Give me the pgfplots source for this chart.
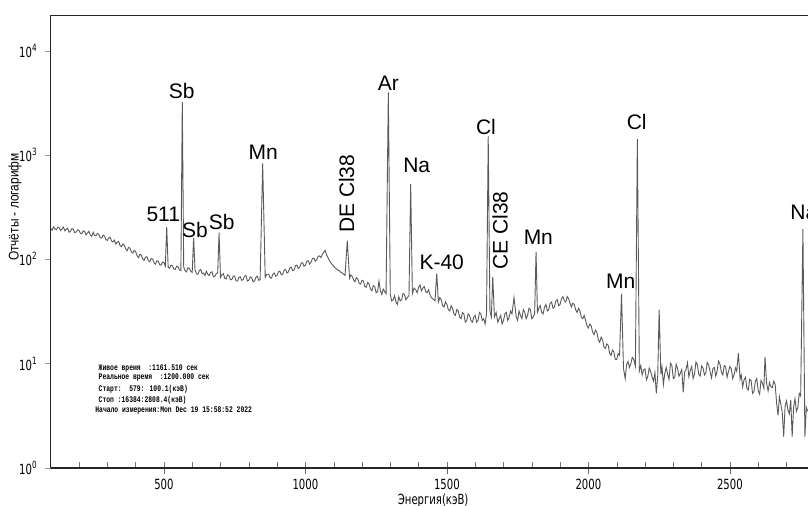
\documentclass[border=0pt]{standalone}
\usepackage{fontspec}
\setmainfont{Liberation Sans}
\newfontfamily\condfont[FakeStretch=0.72]{DejaVu Sans}
\newfontfamily\ylabfont[FakeStretch=0.85]{Liberation Sans}
\newfontfamily\infofont[FakeStretch=0.74]{Liberation Mono}
\usepackage{pgfplots}
\pgfplotsset{compat=1.18}
\usetikzlibrary{calc}

\newcommand{\peak}[1]{\fontsize{10.5}{12}\selectfont #1}
\newcommand{\info}{\infofont\bfseries\fontsize{4.3}{5.2}\selectfont}

\begin{document}
\begin{tikzpicture}
\begin{axis}[
    name=ax,
    scale only axis,
    width=378.65pt, height=226.5pt,
    ymode=log, log basis y=10,
    xmin=100, xmax=2776,
    ymin=1, ymax=22000,
    axis lines*=left,
    axis line style={line width=0.75pt, black!85},
    tick align=outside,
    major tick length=3pt,
    minor tick length=3pt,
    xtick={500,1000,1500,2000,2500},
    minor xtick={200,300,...,2700},
    minor x tick style={yshift=3pt, black!55},
    major x tick style={black!60},
    ytick={1,10,100,1000,10000},
    yticklabels={10\textsuperscript{0},10\textsuperscript{1},10\textsuperscript{2},10\textsuperscript{3},10\textsuperscript{4}},
    yminorticks=false,
    major y tick style={black!40},
    /pgf/number format/assume math mode=true,
    /pgf/number format/1000 sep={},
    xticklabel style={font=\condfont\fontsize{7}{8}\selectfont, yshift=1pt},
    yticklabel style={font=\condfont\fontsize{7}{8}\selectfont},
    xlabel={Энергия(кэВ)},
    xlabel style={font=\condfont\fontsize{7}{8}\selectfont, at={(rel axis cs:0.505,-0.0715)}, anchor=center},
    ylabel={Отчёты - логарифм},
    ylabel style={font=\ylabfont\fontsize{7}{8}\selectfont, at={(rel axis cs:-0.0471,0.576)}, anchor=center},
]
% spectrum, counts per channel
\addplot[black!65, line width=0.45pt, mark=none] coordinates {
(100,198)(105,190)(110,205)(115,196)(120,192)(125,203)(130,201)(135,189)(140,196)(145,204)
(150,188)(155,194)(160,199)(165,182)(170,186)(175,197)(180,194)(185,180)(190,183)(195,192)
(200,190)(205,178)(210,176)(215,188)(220,185)(225,172)(230,179)(235,186)(240,171)(245,166)
(250,182)(255,170)(260,168)(265,177)(270,174)(275,162)(280,160)(285,171)(290,167)(295,155)
(300,152)(305,160)(310,163)(315,150)(320,147)(325,153)(330,140)(335,146)(340,149)(345,136)
(350,132)(355,141)(360,137)(365,126)(370,121)(375,130)(380,128)(385,118)(390,115)(395,122)
(400,119)(405,109)(410,104)(415,112)(420,110)(425,101)(430,98)(435,105)(440,106)(445,97)
(450,95)(455,102)(460,101)(465,93)(470,90)(475,97)(480,96)(485,89)(490,88)(495,94)
(500,93)(505,86)(510,205)(515,84)(520,82)(525,88)(530,87)(535,81)(540,80)(545,86)
(550,85)(555,79)(560,78)(565,3230)(570,84)(575,78)(580,76)(585,83)(590,82)(595,77)
(600,75)(605,160)(610,79)(615,73)(620,72)(625,78)(630,80)(635,73)(640,74)(645,70)
(650,77)(655,72)(660,70)(665,75)(670,76)(675,68)(680,69)(685,73)(690,74)(695,180)
(700,67)(705,71)(710,73)(715,66)(720,65)(725,71)(730,70)(735,64)(740,64)(745,69)
(750,69)(755,62)(760,62)(765,67)(770,68)(775,63)(780,64)(785,69)(790,70)(795,62)
(800,63)(805,68)(810,67)(815,61)(820,62)(825,67)(830,69)(835,63)(840,64)(849,830)
(858,67)(863,72)(870,72)(875,67)(880,66)(885,72)(890,74)(895,69)(900,70)(905,76)
(910,77)(915,71)(920,72)(925,79)(930,80)(935,74)(940,76)(945,83)(950,84)(955,78)
(960,79)(965,87)(970,88)(975,82)(980,84)(985,92)(990,93)(995,86)(1000,88)(1005,96)
(1010,97)(1015,90)(1020,94)(1025,102)(1030,103)(1035,96)(1040,99)(1045,107)(1050,108)(1055,104)
(1060,112)(1065,117)(1070,122)(1075,110)(1080,104)(1085,97)(1090,93)(1095,89)(1100,86)(1105,83)
(1110,81)(1115,79)(1120,78)(1125,75)(1130,74)(1135,72)(1140,70)(1148,151)(1156,66)(1160,71)
(1165,69)(1170,64)(1175,61)(1180,67)(1185,65)(1190,59)(1195,58)(1200,63)(1205,62)(1210,55)
(1215,54)(1220,60)(1225,58)(1230,52)(1235,50)(1240,56)(1245,55)(1250,48)(1255,49)(1260,62)
(1265,50)(1270,46)(1275,52)(1280,49)(1285,47)(1293,3980)(1300,46)(1305,40)(1310,41)(1315,45)
(1320,39)(1325,37)(1330,44)(1335,40)(1340,41)(1345,47)(1350,46)(1355,41)(1360,43)(1366,45)
(1372,528)(1378,47)(1384,53)(1390,51)(1395,48)(1400,54)(1405,57)(1410,50)(1415,53)(1420,55)
(1425,49)(1430,48)(1435,51)(1440,46)(1445,43)(1450,42)(1458,40)(1464,73)(1470,39)(1475,43)
(1480,41)(1485,36)(1490,35)(1495,39)(1500,37)(1505,33)(1510,32)(1515,36)(1520,34)(1525,30)
(1530,29)(1535,33)(1540,32)(1545,28)(1550,27)(1555,31)(1560,30)(1565,25)(1570,26)(1575,30)
(1580,29)(1585,26)(1590,25)(1595,28)(1600,29)(1605,25)(1610,26)(1615,31)(1620,30)(1625,26)
(1630,27)(1635,24)(1640,30)(1646,1520)(1652,32)(1657,28)(1662,68)(1668,28)(1674,31)(1680,25)
(1685,27)(1690,29)(1695,24)(1700,26)(1705,30)(1710,31)(1715,26)(1720,28)(1725,32)(1730,30)
(1737,43)(1745,28)(1750,26)(1755,32)(1760,29)(1765,27)(1770,33)(1775,31)(1780,27)(1785,29)
(1790,34)(1795,33)(1800,27)(1805,28)(1810,30)(1815,118)(1820,31)(1825,34)(1830,36)(1835,31)
(1840,30)(1845,35)(1850,37)(1855,32)(1860,33)(1865,38)(1870,39)(1875,34)(1880,35)(1885,40)
(1890,41)(1895,36)(1900,37)(1905,42)(1910,44)(1915,40)(1920,39)(1925,44)(1930,42)(1935,38)
(1940,35)(1945,38)(1950,37)(1955,33)(1960,31)(1965,34)(1970,32)(1975,28)(1980,27)(1985,29)
(1990,26)(1995,23)(2000,22)(2005,24)(2010,23)(2015,20)(2020,19)(2025,21)(2030,20)(2035,17)
(2040,16)(2045,18)(2050,17)(2055,14.5)(2060,14)(2065,15.5)(2070,15)(2075,12.5)(2080,12)(2085,13.5)
(2090,13)(2095,11)(2100,11)(2105,12.5)(2110,12)(2117,47)(2124,9)(2130,7.2)(2135,9.8)(2140,10.5)
(2145,9.2)(2150,10)(2155,11.5)(2160,11)(2166,9.5)(2173,1420)(2180,8.5)(2185,9.6)(2190,7.8)(2195,8.7)
(2200,8.9)(2205,7.0)(2210,7.6)(2215,9.1)(2220,8.4)(2225,7.5)(2230,6.8)(2235,8.2)(2240,5.2)(2245,7.7)
(2250,33)(2256,7.9)(2260,9.3)(2265,6.3)(2270,8.1)(2275,9.2)(2280,7.9)(2285,7.1)(2290,10.1)(2295,9.6)
(2300,7.2)(2305,7.4)(2310,9.9)(2315,9.0)(2320,7.6)(2325,8.1)(2330,8.8)(2335,5.3)(2340,8.3)(2345,8.8)
(2350,10.2)(2355,7.5)(2360,8.6)(2365,9.4)(2370,7.2)(2375,8.0)(2380,10.4)(2385,9.8)(2390,7.9)(2395,7.6)
(2400,9.5)(2405,9.1)(2410,7.8)(2415,8.2)(2420,10.3)(2425,9.7)(2430,8.4)(2435,7.3)(2440,9.0)(2445,9.2)
(2450,7.6)(2455,8.6)(2460,10.6)(2465,9.9)(2470,8.3)(2475,7.8)(2480,9.6)(2485,9.3)(2490,7.4)(2495,8.4)
(2500,9.4)(2505,8.9)(2510,7.2)(2515,7.9)(2520,9.1)(2524,8.5)(2530,12.7)(2536,7.1)(2540,7.8)(2545,6.0)
(2550,7.0)(2555,7.4)(2560,5.8)(2565,5.6)(2570,7.1)(2575,6.9)(2580,5.2)(2585,5.4)(2590,6.8)(2595,7.2)
(2600,5.5)(2605,5.1)(2610,6.9)(2615,6.5)(2620,5.8)(2624,11.6)(2630,6.4)(2635,5.5)(2640,6.6)(2645,6.0)
(2650,5.9)(2655,6.8)(2660,6.3)(2665,4.2)(2670,3.2)(2675,4.8)(2680,4.1)(2685,3.4)(2690,2.0)(2695,3.9)
(2700,4.4)(2705,3.6)(2710,3.3)(2715,4.5)(2720,2.0)(2725,3.8)(2730,4.6)(2735,3.5)(2740,3.8)(2745,5.2)
(2750,4.9)(2758,195)(2765,2.0)(2770,3.8)(2775,3.5)
};

% top frame line
\draw[line width=0.75pt, black!85] (rel axis cs:0,1) -- (rel axis cs:1,1);

% peak labels
\node[anchor=base] at (rel axis cs:0.1730,0.8160) {\peak{Sb}};
\node[anchor=base] at (rel axis cs:0.2807,0.6815) {\peak{Mn}};
\node[anchor=base] at (rel axis cs:0.4458,0.8344) {\peak{Ar}};
\node[anchor=base] at (rel axis cs:0.4833,0.6519) {\peak{Na}};
\node[anchor=base] at (rel axis cs:0.5748,0.7373) {\peak{Cl}};
\node[anchor=base] at (rel axis cs:0.7738,0.7477) {\peak{Cl}};
\node[anchor=base west, inner sep=0pt] at (rel axis cs:0.9762,0.5475) {\peak{Na}};
\node[anchor=base] at (rel axis cs:0.1487,0.5437) {\peak{511}};
\node[anchor=base] at (rel axis cs:0.1905,0.5093) {\peak{Sb}};
\node[anchor=base] at (rel axis cs:0.2258,0.5254) {\peak{Sb}};
\node[anchor=base] at (rel axis cs:0.5163,0.4386) {\peak{K-40}};
\node[anchor=base] at (rel axis cs:0.6439,0.4938) {\peak{Mn}};
\node[anchor=base] at (rel axis cs:0.7527,0.3967) {\peak{Mn}};
\node[rotate=90, anchor=west, inner sep=0pt] at (rel axis cs:0.3909,0.5182) {\peak{DE Cl38}};
\node[rotate=90, anchor=west, inner sep=0pt] at (rel axis cs:0.5933,0.4371) {\peak{CE Cl38}};

% acquisition info
\node[anchor=base west, inner sep=0pt] at (rel axis cs:0.0629,0.2163) {\info Живое время\ \ :1161.510 сек};
\node[anchor=base west, inner sep=0pt] at (rel axis cs:0.0629,0.1943) {\info Реальное время\ \ :1200.000 сек};
\node[anchor=base west, inner sep=0pt] at (rel axis cs:0.0629,0.1689) {\info Старт:\ \ 579: 100.1(кэВ)};
\node[anchor=base west, inner sep=0pt] at (rel axis cs:0.0629,0.1457) {\info Стоп :16384:2808.4(кэВ)};
\node[anchor=base west, inner sep=0pt] at (rel axis cs:0.0585,0.1236) {\info Начало измерения:Mon Dec 19 15:58:52 2022};
\end{axis}
\pgfresetboundingbox
\path[use as bounding box] ($(ax.south west)+(-25.35pt,-18.5pt)$) rectangle ($(ax.south west)+(378.65pt,234pt)$);
\end{tikzpicture}
\end{document}
